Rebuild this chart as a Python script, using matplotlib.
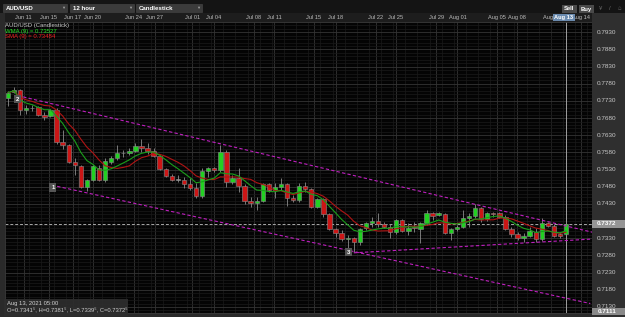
import numpy as np
import pandas as pd
import matplotlib
matplotlib.use("Agg")
import matplotlib.pyplot as plt
from matplotlib.patches import Rectangle
from matplotlib.transforms import blended_transform_factory

plt.rcParams["font.family"] = ["Liberation Sans", "DejaVu Sans"]

# AUD/USD 12 hour candles, Jun 10 - Aug 13 2021
opens = [0.77398, 0.77572, 0.77630, 0.77050, 0.77090, 0.77137, 0.76905, 0.76876, 0.77050, 0.76093,
         0.76006, 0.75511, 0.75395, 0.74785, 0.74988, 0.75337, 0.74988, 0.75511, 0.75627, 0.75772,
         0.75772, 0.75830, 0.75977, 0.75918, 0.75830, 0.75685, 0.75308, 0.75104, 0.75003, 0.74988,
         0.74872, 0.74756, 0.74524, 0.75249, 0.75337, 0.75279, 0.75801, 0.74930, 0.75046, 0.74814,
         0.74379, 0.74321, 0.74379, 0.74872, 0.74698, 0.74785, 0.74872, 0.74466, 0.74408, 0.74814,
         0.74727, 0.74205, 0.74437, 0.74002, 0.73566, 0.73450, 0.73290, 0.73305, 0.73189, 0.73595,
         0.73740, 0.73799, 0.73711, 0.73624, 0.73479, 0.73828, 0.73508, 0.73624, 0.73566, 0.73740,
         0.74031, 0.73973, 0.74002, 0.73450, 0.73566, 0.73624, 0.73886, 0.73944, 0.74176, 0.73857,
         0.74031, 0.74031, 0.73915, 0.73566, 0.73421, 0.73305, 0.73363, 0.73479, 0.73276, 0.73740,
         0.73653, 0.73421, 0.73415]
highs = [0.77601, 0.77717, 0.77659, 0.77195, 0.77195, 0.77166, 0.76992, 0.77079, 0.77108, 0.76469,
         0.76035, 0.75627, 0.75424, 0.75017, 0.75424, 0.75424, 0.75627, 0.75685, 0.76006, 0.75859,
         0.75918, 0.76064, 0.76179, 0.76064, 0.75918, 0.75714, 0.75337, 0.75162, 0.75133, 0.75075,
         0.75046, 0.74901, 0.75337, 0.75366, 0.75366, 0.76006, 0.75859, 0.75133, 0.75337, 0.74872,
         0.74495, 0.74495, 0.74901, 0.74901, 0.74901, 0.75046, 0.74901, 0.74553, 0.74901, 0.74930,
         0.74756, 0.74466, 0.74466, 0.74031, 0.73595, 0.73537, 0.73392, 0.73334, 0.73595, 0.73769,
         0.73915, 0.74031, 0.73769, 0.73711, 0.73857, 0.73857, 0.73740, 0.73769, 0.73769, 0.74118,
         0.74060, 0.74060, 0.74031, 0.73595, 0.73682, 0.74118, 0.74031, 0.74292, 0.74205, 0.74060,
         0.74060, 0.74060, 0.73973, 0.73624, 0.73479, 0.73450, 0.73624, 0.73595, 0.73886, 0.73769,
         0.73711, 0.73479, 0.73815]
lows = [0.77166, 0.77543, 0.76905, 0.76934, 0.77021, 0.76876, 0.76760, 0.76847, 0.76035, 0.75889,
        0.75482, 0.75133, 0.74756, 0.74669, 0.74959, 0.74959, 0.74930, 0.75453, 0.75569, 0.75656,
        0.75714, 0.75801, 0.75801, 0.75743, 0.75656, 0.75279, 0.75075, 0.74959, 0.74930, 0.74756,
        0.74698, 0.74466, 0.74466, 0.75075, 0.75220, 0.75220, 0.74785, 0.74872, 0.74640, 0.74292,
        0.74205, 0.74118, 0.74350, 0.74640, 0.74466, 0.74698, 0.74234, 0.74350, 0.74350, 0.74640,
        0.74176, 0.74176, 0.73915, 0.73537, 0.73334, 0.73218, 0.72957, 0.72899, 0.73102, 0.73537,
        0.73624, 0.73624, 0.73595, 0.73305, 0.73421, 0.73479, 0.73392, 0.73479, 0.73160, 0.73682,
        0.73828, 0.73944, 0.73421, 0.73247, 0.73508, 0.73595, 0.73624, 0.73886, 0.73769, 0.73799,
        0.73915, 0.73886, 0.73537, 0.73334, 0.73247, 0.73189, 0.73334, 0.73189, 0.73218, 0.73624,
        0.73334, 0.73305, 0.73395]
closes = [0.77543, 0.77630, 0.77050, 0.77108, 0.77100, 0.76905, 0.76847, 0.77050, 0.76093, 0.76006,
          0.75511, 0.75424, 0.74785, 0.74988, 0.75395, 0.74988, 0.75540, 0.75627, 0.75772, 0.75772,
          0.75830, 0.75977, 0.75918, 0.75830, 0.75685, 0.75308, 0.75104, 0.74988, 0.75003, 0.74872,
          0.74756, 0.74524, 0.75249, 0.75337, 0.75279, 0.75801, 0.74930, 0.75046, 0.74814, 0.74379,
          0.74321, 0.74379, 0.74872, 0.74698, 0.74785, 0.74872, 0.74466, 0.74408, 0.74814, 0.74727,
          0.74205, 0.74437, 0.74002, 0.73566, 0.73450, 0.73276, 0.73305, 0.73189, 0.73566, 0.73740,
          0.73799, 0.73711, 0.73624, 0.73479, 0.73828, 0.73508, 0.73595, 0.73595, 0.73740, 0.74031,
          0.73944, 0.74031, 0.73450, 0.73566, 0.73624, 0.73886, 0.73944, 0.74176, 0.73857, 0.74031,
          0.74010, 0.73915, 0.73566, 0.73421, 0.73305, 0.73363, 0.73508, 0.73276, 0.73740, 0.73653,
          0.73363, 0.73363, 0.73725]

# date header labels, placed at candle index
date_labels = ["Jun 11", "Jun 15", "Jun 17", "Jun 20", "Jun 24", "Jun 27", "Jul 01", "Jul 04",
               "Jul 08", "Jul 11", "Jul 15", "Jul 18", "Jul 22", "Jul 25", "Jul 29", "Aug 01",
               "Aug 05", "Aug 08", "Aug 12", "Aug 14"]
date_pos = [2.6, 6.7, 10.7, 14.0, 20.7, 24.2, 30.4, 33.9, 40.5, 43.9, 50.4, 54.0,
            60.6, 63.9, 70.6, 74.1, 80.6, 83.9, 89.6, 94.4]
price_ticks = [0.7130, 0.7180, 0.7230, 0.7280, 0.7330, 0.7430, 0.7480, 0.7530, 0.7580,
               0.7630, 0.7680, 0.7730, 0.7780, 0.7830, 0.7880, 0.7930]
last_price = 0.73725
cursor_price = 0.7111

# drawn channel lines (candle index, price) and their point labels
upper_x, upper_y = [1.6, 96.3], [0.77456, 0.73479]
lower_x, lower_y = [8.1, 96.0], [0.74814, 0.71401]
base_x, base_y = [56.1, 96.0], [0.72868, 0.73276]
marks = [("2", 1.55, 0.77355), ("1", 7.4, 0.74785), ("3", 56.1, 0.72897)]

W, H = 625, 317


def box(x0, y0, x1, y1):
    return [x0 / W, 1 - y1 / H, (x1 - x0) / W, (y1 - y0) / H]


def pt(x, y):
    return x / W, 1 - y / H


fig = plt.figure(figsize=(6.25, 3.17), dpi=100, facecolor="#2a2a2a")

# price panel background (behind everything)
fig.patches.append(Rectangle(pt(592, 317), 33 / W, 304 / H, transform=fig.transFigure,
                             fc="#2f2f2f", ec="none", zorder=-1))

ax = fig.add_axes(box(5, 22, 592, 313), facecolor="#040404")
ax.set_xlim(-0.33, 96.28)
ax.set_ylim(0.71125, 0.79576)
ax.set_xticks(date_pos)
ax.set_xticks(np.arange(-0.5, 97, 2), minor=True)
ax.set_yticks(price_ticks)
ax.set_yticks(np.arange(0.712, 0.796, 0.001), minor=True)
ax.grid(which="major", color="#343434", lw=0.6)
ax.grid(which="minor", color="#1a1a1a", lw=0.5)
ax.tick_params(which="both", length=0, labelbottom=False, labelleft=False)
for s in ax.spines.values():
    s.set_color("#3a3a3a")
    s.set_linewidth(0.6)

o = np.array(opens)
h = np.array(highs)
l = np.array(lows)
c = np.array(closes)
idx = np.arange(len(c))

ax.axhline(last_price, color="#a8a8a8", lw=0.7, ls=(0, (3, 2)), zorder=2)
ax.axvline(idx[-1], color="#a0a0a0", lw=0.7, zorder=2)

ax.vlines(idx, l, h, color="#8c8c8c", lw=0.6, zorder=3)
cols = np.where(c > o, "#22d022", np.where(c < o, "#cc1616", "#b8b8b8"))
ax.bar(idx, np.maximum(np.abs(c - o), 0.00012), bottom=np.minimum(o, c), width=0.72,
       color=cols, edgecolor="#8a8a8a", linewidth=0.4, zorder=4)

cs = pd.Series(closes)
sma = cs.rolling(9, min_periods=1).mean()
wma = cs.rolling(9, min_periods=1).apply(
    lambda v: np.dot(v, np.arange(1, len(v) + 1)) / np.arange(1, len(v) + 1).sum(), raw=True)
ax.plot(idx, sma, color="#b01414", lw=0.8, zorder=5)
ax.plot(idx, wma, color="#1a9e1a", lw=0.8, zorder=5)

for xs, ys in [(upper_x, upper_y), (lower_x, lower_y), (base_x, base_y)]:
    ax.plot(xs, ys, color="#c020c0", lw=0.8, ls=(0, (3, 2)), zorder=6)
for txt, mx, my in marks:
    ax.text(mx, my, txt, fontsize=4.3, color="white", ha="center", va="center", weight="bold",
            zorder=7, bbox=dict(boxstyle="square,pad=0.3", fc="#555555", ec="none"))

# legend text
fig.text(*pt(5, 25), "AUD/USD (Candlestick)", fontsize=4.3, color="#c8c8c8", va="center")
fig.text(*pt(5, 31), "WMA (9) = 0.73527", fontsize=4.3, color="#22e022", va="center")
fig.text(*pt(5, 36.5), "SMA (9) = 0.73484", fontsize=4.3, color="#f02020", va="center")

# price panel
axp = fig.add_axes(box(592, 22, 625, 313), sharey=ax, facecolor="#2f2f2f")
axp.set_xlim(0, 1)
axp.tick_params(which="both", length=0, labelbottom=False, labelleft=False)
for s in axp.spines.values():
    s.set_visible(False)
tr = blended_transform_factory(axp.transAxes, axp.transData)
for p in price_ticks:
    axp.text(0.45, p, f"{p:.4f}", transform=tr, fontsize=4.6, color="#c8c8c8",
             ha="center", va="center")
axp.add_patch(Rectangle((0, last_price - 0.0011), 1, 0.0022, transform=tr,
                        fc="#959595", ec="none"))
axp.text(0.45, last_price, f"{last_price:.4f}"[:6], transform=tr, fontsize=4.6,
         color="white", ha="center", va="center", weight="bold")
fig.patches.append(Rectangle(pt(592, 315), 33 / W, 7 / H, transform=fig.transFigure,
                             fc="#8a8a8a", ec="none", zorder=5))
fig.text(*pt(607, 311.5), f"{cursor_price:.4f}", fontsize=4.6, color="white",
         ha="center", va="center", weight="bold", zorder=6)

# date header
axd = fig.add_axes(box(5, 13, 592, 22), sharex=ax, facecolor="#1d1d1d")
axd.set_ylim(0, 1)
axd.tick_params(which="both", length=0, labelbottom=False, labelleft=False)
for s in axd.spines.values():
    s.set_visible(False)
for lab, xp in zip(date_labels, date_pos):
    axd.text(xp, 0.5, lab, fontsize=4.1, color="#bcbcbc", ha="center", va="center")
axd.text(idx[-1] - 0.4, 0.5, "Aug 13", fontsize=4.1, color="white", ha="center", va="center",
         weight="bold", bbox=dict(boxstyle="square,pad=0.25", fc="#6a8aae", ec="none"))

# toolbar
axt = fig.add_axes([0, 1 - 13 / H, 1, 13 / H], facecolor="#141414")
axt.set_xlim(0, W)
axt.set_ylim(13, 0)
axt.set_xticks([])
axt.set_yticks([])
for s in axt.spines.values():
    s.set_visible(False)
for x0, x1, lab in [(3, 67, "AUD/USD"), (70, 134, "12 hour"), (136, 202, "Candlestick")]:
    axt.add_patch(Rectangle((x0, 4), x1 - x0, 8, fc="#3b3b3b", ec="#4a4a4a", lw=0.4))
    axt.text(x0 + 3, 8, lab, fontsize=4.4, color="white", weight="bold", va="center")
    axt.text(x1 - 4, 8, "▼", fontsize=3, color="#a0a0a0", ha="center", va="center")
for x0, x1, lab in [(562, 577, "Sell"), (579, 594, "Buy")]:
    axt.add_patch(Rectangle((x0, 5), x1 - x0, 8, fc="#4a4a4a", ec="none"))
    axt.text((x0 + x1) / 2, 9, lab, fontsize=4.2, color="white", weight="bold",
             ha="center", va="center")
for xi, g in [(601, "¥"), (610, "/"), (619, "⌂")]:
    axt.text(xi, 9, g, fontsize=4.2, color="#6a6a6a", ha="center", va="center")

# bottom info box
fig.patches.append(Rectangle(pt(4, 316), 124 / W, 17 / H, transform=fig.transFigure,
                             fc="#2e2e2e", ec="none", alpha=0.92, zorder=5))
fig.text(*pt(7, 304), "Aug 13, 2021 05:00", fontsize=4.2, color="#d0d0d0", va="center", zorder=6)
fig.text(*pt(7, 310.5), "O=0.7341⁵, H=0.7381⁵, L=0.7339⁵, C=0.7372⁵", fontsize=4.2,
         color="#d0d0d0", va="center", zorder=6)

fig.savefig("out.png", dpi=100, facecolor=fig.get_facecolor())
